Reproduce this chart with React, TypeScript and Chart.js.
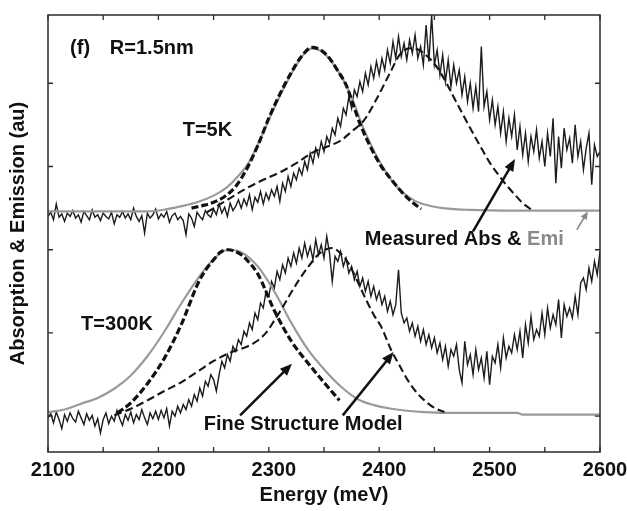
import React, { useEffect, useRef } from 'react';
import { Chart, registerables } from 'chart.js';

Chart.register(...registerables);

// ---------- data ----------
const xTickLabels = ['2100', '2200', '2300', '2400', '2500', '2600'];
const yTickValues = [0, 1, 2, 3, 4];

// measured absorption, sampled from 2100 meV every 2.5 meV
const absStartE = 2100;
const absStepE = 2.5;
const abs5K = [
  2.40, 2.45, 2.36, 2.55, 2.39, 2.43, 2.34, 2.44, 2.40, 2.47,
  2.38, 2.42, 2.33, 2.46, 2.41, 2.36, 2.48, 2.39, 2.42, 2.35,
  2.44, 2.40, 2.37, 2.45, 2.31, 2.42, 2.39, 2.46, 2.38, 2.43,
  2.36, 2.50, 2.40, 2.34, 2.41, 2.20, 2.44, 2.38, 2.42, 2.49,
  2.37, 2.43, 2.39, 2.46, 2.33, 2.41, 2.44, 2.36, 2.40, 2.35,
  2.18, 2.43, 2.38, 2.28, 2.45, 2.40, 2.36, 2.47, 2.42, 2.39,
  2.49, 2.42, 2.55, 2.44, 2.51, 2.40, 2.56, 2.47, 2.52, 2.60,
  2.50, 2.61, 2.53, 2.66, 2.48, 2.63, 2.57, 2.70, 2.55, 2.68,
  2.60, 2.72, 2.64, 2.76, 2.58, 2.80, 2.70, 2.88, 2.76, 2.92,
  2.84, 2.98, 2.90, 3.06, 2.96, 3.16, 3.04, 3.22, 3.12, 3.30,
  3.18, 3.36, 3.28, 3.46, 3.38, 3.58, 3.48, 3.70, 3.62, 3.84,
  3.70, 3.92, 3.84, 4.02, 3.90, 4.12, 3.98, 4.20, 4.06, 4.26,
  4.10, 4.30, 4.16, 4.40, 4.24, 4.50, 4.30, 4.56, 4.32, 4.48,
  4.28, 4.52, 4.36, 4.58, 4.30, 4.44, 4.22, 4.70, 4.26, 4.82,
  4.22, 4.40, 4.10, 4.34, 4.02, 4.28, 3.96, 4.22, 4.00, 4.16,
  3.86, 4.08, 3.78, 4.00, 3.70, 3.96, 3.66, 4.44, 3.72, 3.90,
  3.56, 3.80, 3.50, 3.72, 3.40, 3.66, 3.30, 3.58, 3.36, 3.62,
  3.20, 3.48, 3.14, 3.40, 3.06, 3.36, 3.18, 3.44, 3.10, 3.30,
  3.00, 3.40, 3.12, 3.58, 2.80, 3.36, 2.98, 3.46, 3.20, 3.34,
  3.04, 3.50, 3.12, 3.30, 2.96, 3.22, 3.40, 2.78, 3.26, 3.12, 3.18,
];
const abs300K = [
  -0.02, 0.03, -0.08, 0.05, -0.04, -0.15, 0.02, -0.06, 0.04, -0.03,
  -0.07, 0.06, -0.02, -0.10, 0.03, -0.05, 0.01, -0.12, -0.03, -0.20,
  -0.04, 0.04, -0.09, 0.00, -0.06, 0.07, -0.03, -0.11, 0.02, -0.05,
  0.05, -0.08, 0.02, -0.04, 0.08, -0.02, -0.10, 0.04, -0.03, 0.06,
  -0.04, 0.07, -0.02, 0.09, -0.12, 0.06, 0.00, 0.12, 0.04, 0.14,
  0.08, 0.20, 0.12, 0.26, 0.18, 0.34, 0.24, 0.42, 0.36, 0.50,
  0.44, 0.30, 0.50, 0.66, 0.58, 0.74, 0.66, 0.84, 0.78, 0.92,
  0.86, 1.02, 0.96, 1.12, 1.04, 1.24, 1.16, 1.36, 1.30, 1.50,
  1.44, 1.62, 1.54, 1.74, 1.64, 1.82, 1.72, 1.90, 1.80, 1.96,
  1.84, 2.02, 1.90, 2.08, 1.92, 2.04, 1.88, 2.12, 1.94, 2.06,
  1.90, 2.16, 1.96, 1.62, 1.92, 1.86, 1.98, 1.80, 1.90, 1.72,
  1.80, 1.64, 1.74, 1.56, 1.66, 1.50, 1.62, 1.44, 1.56, 1.40,
  1.50, 1.34, 1.44, 1.26, 1.38, 1.22, 1.34, 1.76, 1.24, 1.12,
  1.18, 1.02, 1.12, 0.96, 1.08, 0.90, 1.04, 0.86, 0.98, 0.82,
  0.94, 0.76, 0.88, 0.68, 0.84, 0.60, 0.80, 0.72, 0.86, 0.56,
  0.40, 0.90, 0.62, 0.74, 0.50, 0.80, 0.56, 0.70, 0.46, 0.78,
  0.38, 0.72, 0.64, 0.86, 0.58, 0.94, 0.70, 0.84, 0.76, 0.98,
  0.80, 1.02, 0.70, 1.10, 0.88, 1.20, 0.92, 1.04, 0.96, 1.24,
  0.98, 1.30, 1.06, 1.22, 1.10, 1.40, 0.94, 1.34, 1.20, 1.30,
  1.18, 1.44, 1.22, 1.60, 1.66, 1.52, 1.78, 1.62, 1.86, 1.70, 1.98,
];

// measured emission (gray), [energy, value]
const emi5K: [number, number][] = [
  [2100, 2.46], [2190, 2.46], [2205, 2.48], [2220, 2.52], [2235, 2.57], [2250, 2.65],
  [2262, 2.75], [2272, 2.88], [2282, 3.05], [2292, 3.32], [2302, 3.62], [2312, 3.90],
  [2322, 4.15], [2331, 4.34], [2339, 4.42], [2347, 4.39], [2355, 4.29], [2363, 4.14],
  [2371, 3.95], [2378, 3.73], [2385, 3.48], [2394, 3.22], [2403, 3.00], [2412, 2.82],
  [2422, 2.68], [2432, 2.59], [2442, 2.54], [2452, 2.51], [2465, 2.49], [2480, 2.48],
  [2520, 2.47], [2600, 2.47],
];
const emi300K: [number, number][] = [
  [2100, 0.05], [2115, 0.08], [2130, 0.15], [2145, 0.22], [2160, 0.33], [2175, 0.49],
  [2190, 0.72], [2206, 1.03], [2221, 1.36], [2236, 1.66], [2251, 1.90], [2263, 2.00],
  [2275, 1.97], [2290, 1.80], [2299, 1.63], [2310, 1.38], [2320, 1.13], [2336, 0.79],
  [2351, 0.55], [2365, 0.36], [2381, 0.20], [2396, 0.13], [2411, 0.09], [2441, 0.05],
  [2471, 0.04], [2525, 0.04], [2530, 0.02], [2600, 0.02],
];

// fine structure model, emission (heavy dashed)
const modelEmi5K: [number, number][] = [
  [2230, 2.50], [2240, 2.53], [2250, 2.57], [2260, 2.64], [2270, 2.76], [2280, 2.97],
  [2290, 3.25], [2300, 3.58], [2310, 3.87], [2320, 4.12], [2330, 4.33], [2339, 4.43],
  [2347, 4.40], [2355, 4.30], [2362, 4.16], [2370, 3.98], [2376, 3.76], [2383, 3.50],
  [2392, 3.24], [2401, 3.02], [2410, 2.86], [2418, 2.73], [2425, 2.63], [2432, 2.55],
  [2438, 2.49],
];
const modelEmi300K: [number, number][] = [
  [2163, 0.04], [2175, 0.16], [2190, 0.39], [2206, 0.71], [2221, 1.11], [2236, 1.60],
  [2243, 1.76], [2250, 1.88], [2256, 1.97], [2263, 2.00], [2275, 1.94], [2282, 1.85],
  [2290, 1.71], [2305, 1.27], [2320, 0.91], [2336, 0.63], [2351, 0.39], [2364, 0.19],
];

// fine structure model, absorption (thin dashed)
const modelAbs5K: [number, number][] = [
  [2244, 2.45], [2250, 2.50], [2265, 2.62], [2280, 2.74], [2295, 2.84], [2310, 2.93],
  [2325, 3.04], [2340, 3.17], [2355, 3.25], [2365, 3.31], [2375, 3.42], [2386, 3.55],
  [2398, 3.82], [2410, 4.13], [2419, 4.35], [2428, 4.42], [2436, 4.40], [2443, 4.33],
  [2449, 4.25], [2455, 4.14], [2461, 4.00], [2470, 3.77], [2478, 3.57], [2485, 3.40],
  [2493, 3.21], [2500, 3.05], [2508, 2.90], [2515, 2.78], [2523, 2.66], [2530, 2.56],
  [2538, 2.48],
];
const modelAbs300K: [number, number][] = [
  [2160, 0.01], [2175, 0.09], [2190, 0.19], [2205, 0.30], [2221, 0.41], [2236, 0.54],
  [2251, 0.67], [2266, 0.77], [2281, 0.84], [2290, 0.91], [2298, 1.01], [2305, 1.15],
  [2313, 1.32], [2320, 1.48], [2328, 1.65], [2336, 1.80], [2344, 1.93], [2351, 2.00],
  [2357, 2.02], [2364, 1.97], [2372, 1.84], [2380, 1.63], [2387, 1.43], [2395, 1.22],
  [2402, 1.07], [2411, 0.79], [2418, 0.62], [2426, 0.43], [2433, 0.30], [2441, 0.19],
  [2450, 0.10], [2459, 0.05],
];

// ---------- helpers ----------
const FONT = '"Liberation Sans", Arial, Helvetica, sans-serif';
const sampled = (vals: number[]) => vals.map((v, i) => ({ x: absStartE + i * absStepE, y: v }));
const pairs = (arr: [number, number][]) => arr.map(([x, y]) => ({ x, y }));

function drawArrow(ctx: CanvasRenderingContext2D, x1: number, y1: number, x2: number, y2: number, color: string, width: number, head: number, half: number) {
  const a = Math.atan2(y2 - y1, x2 - x1);
  const c = Math.cos(a), s = Math.sin(a);
  ctx.save();
  ctx.strokeStyle = color;
  ctx.fillStyle = color;
  ctx.lineWidth = width;
  ctx.beginPath();
  ctx.moveTo(x1, y1);
  ctx.lineTo(x2 - head * 0.7 * c, y2 - head * 0.7 * s);
  ctx.stroke();
  ctx.beginPath();
  ctx.moveTo(x2, y2);
  ctx.lineTo(x2 - head * c + half * s, y2 - head * s - half * c);
  ctx.lineTo(x2 - head * c - half * s, y2 - head * s + half * c);
  ctx.closePath();
  ctx.fill();
  ctx.restore();
}

const decorPlugin = {
  id: 'decor',
  afterDraw(chart: any) {
    const ctx: CanvasRenderingContext2D = chart.ctx;
    const { left, right, top, bottom } = chart.chartArea;
    const xs = chart.scales.x;
    const ys = chart.scales.y;
    const px = (e: number) => xs.getPixelForValue(e);
    const py = (v: number) => ys.getPixelForValue(v);
    ctx.save();
    // frame
    ctx.strokeStyle = '#2a2a2a';
    ctx.lineWidth = 1.5;
    ctx.strokeRect(left, top, right - left, bottom - top);
    // inward ticks
    ctx.lineWidth = 1.3;
    ctx.beginPath();
    xs.ticks.forEach((t: any) => {
      const x = px(t.value);
      ctx.moveTo(x, bottom); ctx.lineTo(x, bottom - 5);
      ctx.moveTo(x, top); ctx.lineTo(x, top + 5);
    });
    yTickValues.forEach((v) => {
      const y = py(v);
      ctx.moveTo(left, y); ctx.lineTo(left + 5, y);
      ctx.moveTo(right, y); ctx.lineTo(right - 5, y);
    });
    ctx.stroke();

    // x tick labels (positions from the x scale)
    ctx.font = `bold 20px ${FONT}`;
    ctx.fillStyle = '#111';
    ctx.textAlign = 'center';
    ctx.textBaseline = 'middle';
    xTickLabels.forEach((lab) => {
      ctx.fillText(lab, px(Number(lab)) + 5, bottom + 18);
    });

    // annotation texts
    ctx.textAlign = 'left';
    ctx.fillText('(f)', px(2120), py(4.42));
    ctx.fillText('R=1.5nm', px(2156), py(4.42));
    ctx.fillText('T=5K', px(2222), py(3.43));
    ctx.fillText('T=300K', px(2130), py(1.10));
    ctx.fillText('Fine Structure Model', px(2241), py(-0.10));
    const m = 'Measured Abs & ';
    ctx.fillText(m, px(2387), py(2.12));
    const mw = ctx.measureText(m).width;
    ctx.fillStyle = '#8a8a8a';
    ctx.fillText('Emi', px(2387) + mw, py(2.12));
    ctx.restore();

    // arrows
    drawArrow(ctx, px(2485), py(2.22), px(2523), py(3.09), '#111', 2.5, 12, 5);
    drawArrow(ctx, px(2579), py(2.24), px(2589), py(2.46), '#888', 1.5, 8, 3.5);
    drawArrow(ctx, px(2274), py(0.01), px(2321), py(0.63), '#111', 2.5, 12, 5);
    drawArrow(ctx, px(2367), py(0.01), px(2413), py(0.77), '#111', 2.5, 12, 5);
  },
};

export default function App() {
  const ref = useRef<HTMLCanvasElement>(null);
  useEffect(() => {
    if (!ref.current) return;
    const noisy = { borderColor: '#1c1c1c', borderWidth: 1.4, pointRadius: 0, tension: 0, fill: false };
    const gray = { borderColor: '#9a9a9a', borderWidth: 2.2, pointRadius: 0, cubicInterpolationMode: 'monotone' as const, fill: false };
    const heavy = { borderColor: '#111', borderWidth: 3.2, borderDash: [7, 3], pointRadius: 0, cubicInterpolationMode: 'monotone' as const, fill: false };
    const thin = { borderColor: '#161616', borderWidth: 2.1, borderDash: [8, 4], pointRadius: 0, cubicInterpolationMode: 'monotone' as const, fill: false };
    const chart = new Chart(ref.current, {
      type: 'line',
      data: {
        datasets: [
          { ...heavy, data: pairs(modelEmi5K) },
          { ...heavy, data: pairs(modelEmi300K) },
          { ...thin, data: pairs(modelAbs5K) },
          { ...thin, data: pairs(modelAbs300K) },
          { ...gray, data: pairs(emi5K) },
          { ...gray, data: pairs(emi300K) },
          { ...noisy, data: sampled(abs5K) },
          { ...noisy, data: sampled(abs300K) },
        ] as any,
      },
      options: {
        animation: false,
        responsive: false,
        devicePixelRatio: 1,
        parsing: false as any,
        normalized: true,
        layout: { padding: { left: 0, right: 27, top: 15, bottom: 0 } },
        plugins: { legend: { display: false }, tooltip: { enabled: false } },
        scales: {
          x: {
            type: 'linear',
            min: 2100,
            max: 2600,
            grid: { display: false, drawTicks: false },
            border: { display: false },
            ticks: { display: false, stepSize: 50 },
            title: {
              display: true,
              text: 'Energy (meV)',
              color: '#111',
              font: { family: FONT, size: 20, weight: 'bold' },
              padding: { top: 0, bottom: 4 },
            },
            afterFit: (s: any) => { s.height = 59; },
          },
          y: {
            type: 'linear',
            min: -0.43,
            max: 4.82,
            grid: { display: false, drawTicks: false },
            border: { display: false },
            ticks: { display: false, stepSize: 1 },
            title: {
              display: true,
              text: 'Absorption & Emission (au)',
              color: '#111',
              font: { family: FONT, size: 20, weight: 'bold' },
              padding: { top: 6, bottom: 0 },
            },
            afterFit: (s: any) => { s.width = 48; },
          },
        },
      } as any,
      plugins: [decorPlugin],
    });
    return () => chart.destroy();
  }, []);
  return (
    <div style={{ position: 'absolute', left: 0, top: 0, width: 627, height: 511, background: '#fff' }}>
      <canvas ref={ref} width={627} height={511} style={{ display: 'block' }} />
    </div>
  );
}
